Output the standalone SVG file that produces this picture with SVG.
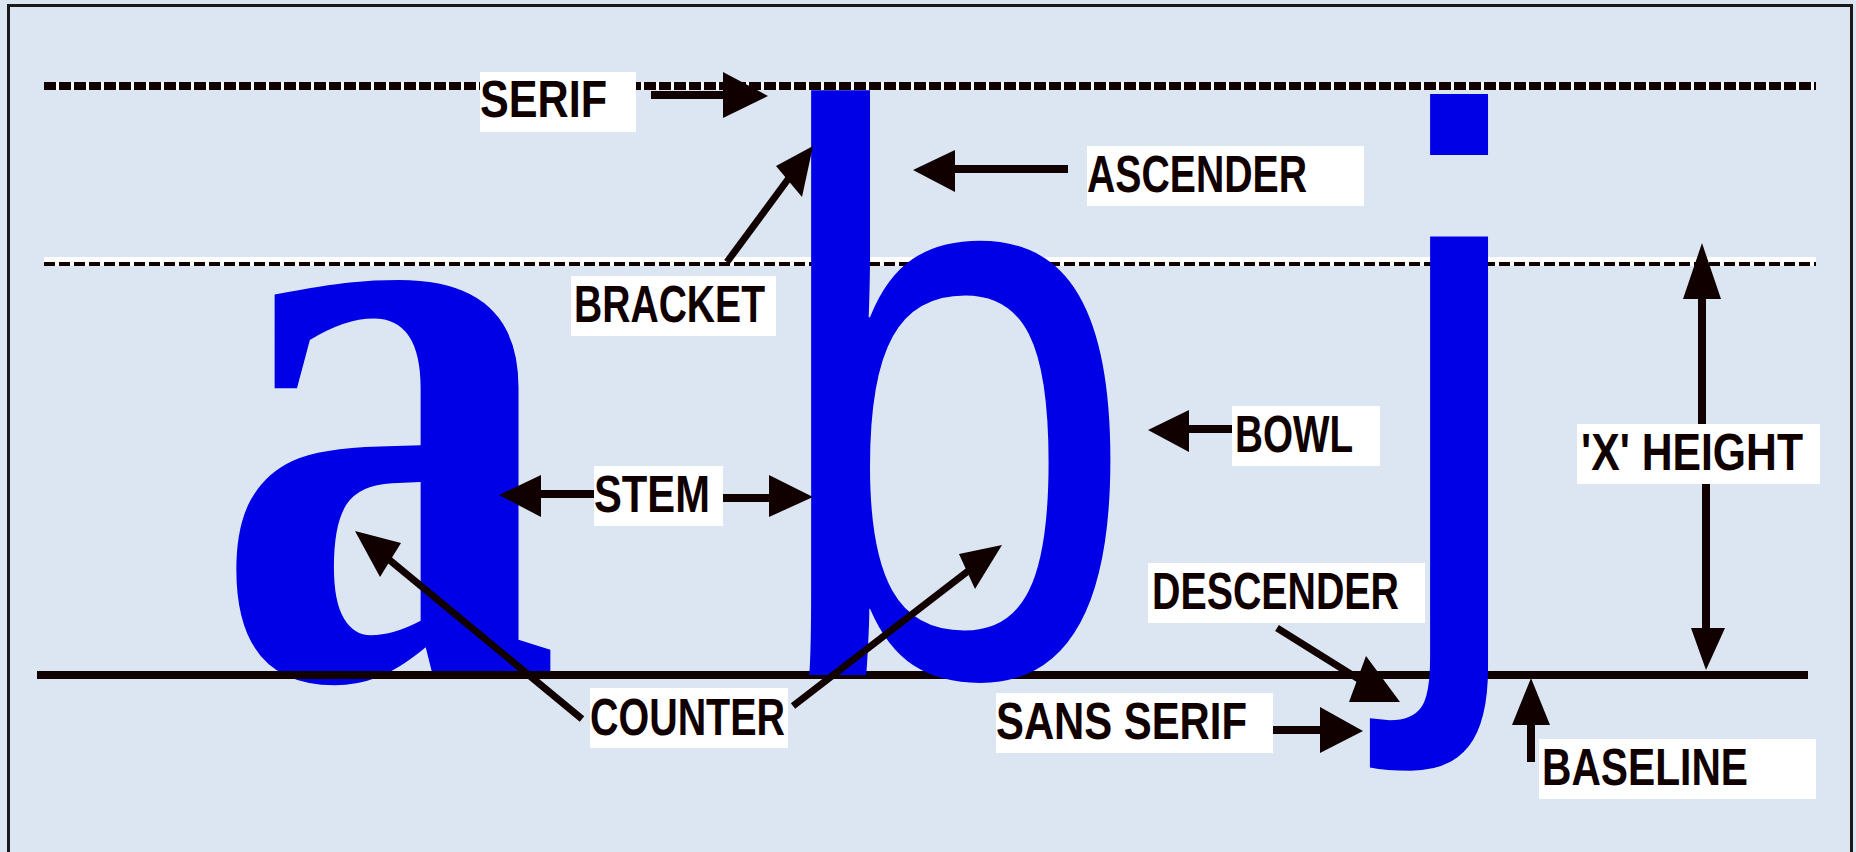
<svg xmlns="http://www.w3.org/2000/svg" width="1856" height="852" viewBox="0 0 1856 852">
<style>
.bg{fill:#dce6f2}
.frame{fill:none;stroke:#1a1a1a;stroke-width:3}
.glyph{fill:#0000e6}
.lbl rect{fill:#ffffff}
.lbl text{font-family:"Liberation Sans",Arial,sans-serif;font-weight:bold;font-size:51px;fill:#100000}
.shaft{stroke:#100000;stroke-width:8;fill:none}
.diag{stroke:#100000;stroke-width:7;fill:none}
.head{fill:#100000}
.dash{fill:none;stroke:#100000}
</style>
<rect class="bg" x="0" y="0" width="1856" height="852"/>
<rect class="frame" x="8.5" y="5.5" width="1843" height="900"/>

<g id="guides">
  <rect x="44" y="82" width="1772" height="8" fill="#ffffff"/>
  <line class="dash" x1="44" y1="86" x2="1816" y2="86" stroke-width="8" stroke-dasharray="12 3"/>
  <rect x="44" y="257" width="1772" height="9" fill="#ffffff"/>
  <line class="dash" x1="44" y1="264" x2="1816" y2="264" stroke-width="4" stroke-dasharray="11 4"/>
</g>

<g id="letter-a">
  <text class="glyph" transform="translate(214,677) scale(0.82,1)" font-family="Liberation Serif, serif" font-weight="bold" font-size="846">a</text>
</g>

<g id="baseline">
  <rect x="37" y="671" width="1771" height="8" fill="#100000"/>
</g>

<g id="letter-b">
  <text class="glyph" transform="translate(766,675) scale(0.83,1)" font-family="Liberation Sans, sans-serif" font-size="807">b</text>
</g>

<g id="letter-j">
  <text class="glyph" transform="translate(1386,620) scale(0.908,1)" font-family="Liberation Sans, sans-serif" font-size="726">j</text>
</g>

<g id="connectors">
  <line class="shaft" x1="651" y1="95" x2="726" y2="95"/>
  <polygon class="head" points="723,72 768,96 723,118"/>
  <line class="diag" x1="727" y1="262" x2="800" y2="163"/>
  <polygon class="head" points="813,146 776,166 802,197"/>
  <line class="shaft" x1="950" y1="169" x2="1068" y2="169"/>
  <polygon class="head" points="913,170 955,150 955,192"/>
  <line class="shaft" x1="535" y1="494" x2="594" y2="494"/>
  <polygon class="head" points="499,495 541,475 541,517"/>
  <line class="shaft" x1="723" y1="498" x2="772" y2="498"/>
  <polygon class="head" points="813,497 769,475 769,517"/>
  <line class="shaft" x1="1185" y1="429" x2="1232" y2="429"/>
  <polygon class="head" points="1148,430 1189,410 1189,452"/>
  <line class="diag" x1="582" y1="719" x2="375" y2="548"/>
  <polygon class="head" points="355,531 401,543 380,577"/>
  <line class="diag" x1="793" y1="706" x2="985" y2="558"/>
  <polygon class="head" points="1002,545 959,554 975,589"/>
  <line class="diag" x1="1277" y1="628" x2="1365" y2="683"/>
  <polygon class="head" points="1400,702 1366,656 1349,702"/>
  <line class="shaft" x1="1273" y1="730" x2="1322" y2="730"/>
  <polygon class="head" points="1363,731 1320,707 1320,753"/>
  <line class="shaft" x1="1531" y1="762" x2="1531" y2="720" stroke-width="7"/>
  <polygon class="head" points="1531,678 1512,725 1550,725"/>
  <line class="shaft" x1="1702" y1="424" x2="1702" y2="295" stroke-width="7"/>
  <polygon class="head" points="1702,243 1683,299 1721,299"/>
  <line class="shaft" x1="1706" y1="484" x2="1706" y2="632" stroke-width="7"/>
  <polygon class="head" points="1706,670 1691,628 1725,628"/>
</g>

<g id="label-serif" class="lbl"><rect x="480" y="72" width="156" height="60"/><text x="480" y="117" textLength="127" lengthAdjust="spacingAndGlyphs">SERIF</text></g>
<g id="label-bracket" class="lbl"><rect x="571" y="276" width="205" height="60"/><text x="574" y="322" textLength="191" lengthAdjust="spacingAndGlyphs">BRACKET</text></g>
<g id="label-ascender" class="lbl"><rect x="1087" y="146" width="277" height="60"/><text x="1087" y="192" textLength="220" lengthAdjust="spacingAndGlyphs">ASCENDER</text></g>
<g id="label-stem" class="lbl"><rect x="594" y="466" width="129" height="60"/><text x="594" y="512" textLength="116" lengthAdjust="spacingAndGlyphs">STEM</text></g>
<g id="label-bowl" class="lbl"><rect x="1232" y="406" width="148" height="60"/><text x="1235" y="452" textLength="118" lengthAdjust="spacingAndGlyphs">BOWL</text></g>
<g id="label-xheight" class="lbl"><rect x="1577" y="424" width="243" height="60"/><text x="1581" y="470" textLength="222" lengthAdjust="spacingAndGlyphs">'X' HEIGHT</text></g>
<g id="label-counter" class="lbl"><rect x="590" y="688" width="198" height="60"/><text x="590" y="735" textLength="195" lengthAdjust="spacingAndGlyphs">COUNTER</text></g>
<g id="label-descender" class="lbl"><rect x="1148" y="563" width="277" height="60"/><text x="1152" y="609" textLength="247" lengthAdjust="spacingAndGlyphs">DESCENDER</text></g>
<g id="label-sansserif" class="lbl"><rect x="996" y="693" width="277" height="60"/><text x="996" y="739" textLength="251" lengthAdjust="spacingAndGlyphs">SANS SERIF</text></g>
<g id="label-baseline" class="lbl"><rect x="1539" y="739" width="277" height="60"/><text x="1542" y="785" textLength="206" lengthAdjust="spacingAndGlyphs">BASELINE</text></g>
</svg>
